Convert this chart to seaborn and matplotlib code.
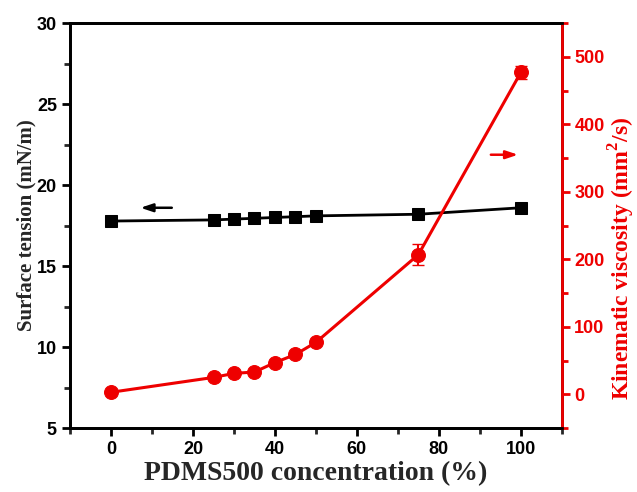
import matplotlib
matplotlib.use("Agg")
import matplotlib.pyplot as plt
import seaborn as sns
import pandas as pd
from matplotlib.ticker import MultipleLocator

concentration = [0, 25, 30, 35, 40, 45, 50, 75, 100]
surface_tension = [17.78, 17.85, 17.9, 17.95, 18.0, 18.05, 18.1, 18.2, 18.6]
viscosity = [3, 25, 31, 33, 47, 59, 77, 207, 477]
viscosity_err = [1, 2, 2, 2, 2, 2, 3, 15, 10]

df = pd.DataFrame({"c": concentration, "st": surface_tension, "kv": viscosity, "err": viscosity_err})

sns.set_theme(style="white")
plt.rcParams['font.family'] = ['Liberation Sans', 'DejaVu Sans']
plt.rcParams['mathtext.fontset'] = 'custom'
plt.rcParams['mathtext.bf'] = 'Liberation Serif:bold'
plt.rcParams['mathtext.rm'] = 'Liberation Serif:bold'

fig = plt.figure(figsize=(6.37, 4.92), dpi=100)
ax = fig.add_axes([0.110, 0.130, 0.772, 0.823])
ax2 = ax.twinx()

red = "#ee0000"

sns.lineplot(data=df, x="c", y="st", ax=ax, color="black", marker="s", markersize=9,
             linewidth=2, markeredgecolor="black")
sns.lineplot(data=df, x="c", y="kv", ax=ax2, color=red, marker="o", markersize=10,
             linewidth=2.2, markeredgecolor=red)
ax2.errorbar(df["c"], df["kv"], yerr=df["err"], fmt="none", ecolor=red, elinewidth=1.5, capsize=4)

ax.set_xlim(-10, 110)
ax.set_ylim(5, 30)
ax2.set_ylim(-50, 550)

ax.xaxis.set_major_locator(MultipleLocator(20))
ax.xaxis.set_minor_locator(MultipleLocator(10))
ax.yaxis.set_major_locator(MultipleLocator(5))
ax.yaxis.set_minor_locator(MultipleLocator(2.5))
ax2.yaxis.set_minor_locator(MultipleLocator(50))
ax2.set_yticks([0, 100, 200, 300, 400, 500])

for a in (ax, ax2):
    for s in a.spines.values():
        s.set_linewidth(2)
        s.set_color("black")
ax2.spines["right"].set_color(red)

ax.tick_params(axis="both", which="major", direction="out", length=6, width=2,
               labelsize=13, colors="black", bottom=True, left=True, top=False)
ax.tick_params(axis="both", which="minor", direction="out", length=4, width=2,
               bottom=True, left=True, top=False)
ax2.tick_params(axis="y", which="major", direction="out", length=6, width=2,
                labelsize=13, colors=red, right=True, pad=3)
ax2.tick_params(axis="y", which="minor", direction="out", length=4, width=2, colors=red, right=True)

for lab in ax.get_xticklabels() + ax.get_yticklabels() + ax2.get_yticklabels():
    lab.set_fontweight("bold")

serif = ["Liberation Serif", "DejaVu Serif"]
ax.set_xlabel("PDMS500 concentration (%)", fontsize=20, fontweight="bold",
              family=serif, labelpad=2)
ax.set_ylabel("Surface tension (mN/m)", fontsize=15, fontweight="bold",
              family=serif, labelpad=0)
ax2.set_ylabel("Kinematic viscosity (mm$^{2}$/s)", fontsize=17, fontweight="bold",
               family=serif, color=red)
ax2.yaxis.set_label_coords(1.092, 0.42)
ax.grid(False)
ax2.grid(False)

ax.annotate("", xy=(6.5, 18.6), xytext=(15.5, 18.6),
            arrowprops=dict(arrowstyle="-|>,head_length=0.6,head_width=0.2", color="black", lw=1.8))
ax2.annotate("", xy=(100, 355), xytext=(92, 355),
             arrowprops=dict(arrowstyle="-|>,head_length=0.6,head_width=0.2", color=red, lw=1.8))

fig.savefig("out.png", dpi=100)
